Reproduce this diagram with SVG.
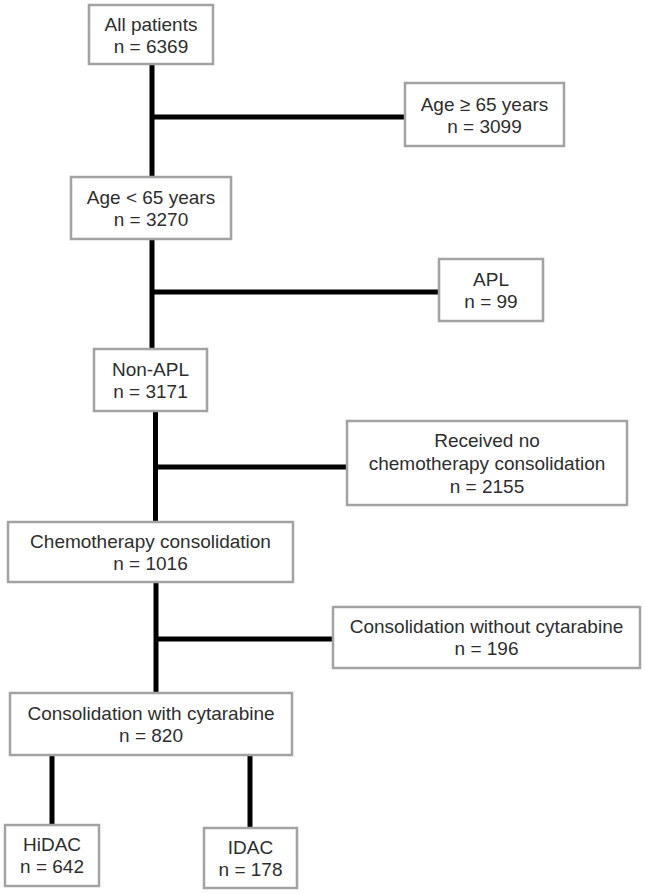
<svg xmlns="http://www.w3.org/2000/svg" width="645" height="894" viewBox="0 0 645 894">
<style>
.box{fill:#fff;stroke:#a3a3a3;stroke-width:2.5}
.t{font-family:"Liberation Sans",Arial,sans-serif;font-size:19px;fill:#2e2e2e;text-anchor:middle}
.c{stroke:#000;stroke-width:5;fill:none}
</style>
<rect width="645" height="894" fill="#fff"/>
<g id="connectors">
<line class="c" x1="152" y1="64" x2="152" y2="177"/>
<line class="c" x1="152" y1="117" x2="405" y2="117"/>
<line class="c" x1="152" y1="239" x2="152" y2="349"/>
<line class="c" x1="152" y1="292" x2="439" y2="292"/>
<line class="c" x1="155.5" y1="411" x2="155.5" y2="522"/>
<line class="c" x1="155.5" y1="467" x2="347" y2="467"/>
<line class="c" x1="156" y1="582" x2="156" y2="693"/>
<line class="c" x1="156" y1="639" x2="333" y2="639"/>
<line class="c" x1="52" y1="755" x2="52" y2="825"/>
<line class="c" x1="250" y1="755" x2="250" y2="828"/>
</g>
<g id="n1"><rect class="box" x="89" y="5" width="124" height="59"/><text class="t" x="151" y="31">All patients</text><text class="t" x="151" y="53">n = 6369</text></g>
<g id="n2"><rect class="box" x="405" y="83" width="159" height="63"/><text class="t" x="484.5" y="111">Age ≥ 65 years</text><text class="t" x="484.5" y="133">n = 3099</text></g>
<g id="n3"><rect class="box" x="71" y="177" width="160" height="62"/><text class="t" x="151" y="204">Age &lt; 65 years</text><text class="t" x="151" y="226">n = 3270</text></g>
<g id="n4"><rect class="box" x="439" y="259" width="104" height="62"/><text class="t" x="491" y="286">APL</text><text class="t" x="491" y="308">n = 99</text></g>
<g id="n5"><rect class="box" x="94" y="349" width="113" height="62"/><text class="t" x="150.5" y="376">Non-APL</text><text class="t" x="150.5" y="398">n = 3171</text></g>
<g id="n6"><rect class="box" x="347" y="421" width="280" height="84"/><text class="t" x="487" y="447">Received no</text><text class="t" x="487" y="470">chemotherapy consolidation</text><text class="t" x="487" y="493">n = 2155</text></g>
<g id="n7"><rect class="box" x="8" y="522" width="285" height="60"/><text class="t" x="150.5" y="548">Chemotherapy consolidation</text><text class="t" x="150.5" y="570">n = 1016</text></g>
<g id="n8"><rect class="box" x="333" y="607" width="307" height="61"/><text class="t" x="486.5" y="633">Consolidation without cytarabine</text><text class="t" x="486.5" y="655">n = 196</text></g>
<g id="n9"><rect class="box" x="10" y="693" width="282" height="62"/><text class="t" x="151" y="720">Consolidation with cytarabine</text><text class="t" x="151" y="742">n = 820</text></g>
<g id="n10"><rect class="box" x="5" y="825" width="94" height="61"/><text class="t" x="52" y="851">HiDAC</text><text class="t" x="52" y="873">n = 642</text></g>
<g id="n11"><rect class="box" x="204" y="828" width="93" height="60"/><text class="t" x="250.5" y="854">IDAC</text><text class="t" x="250.5" y="876">n = 178</text></g>
</svg>
